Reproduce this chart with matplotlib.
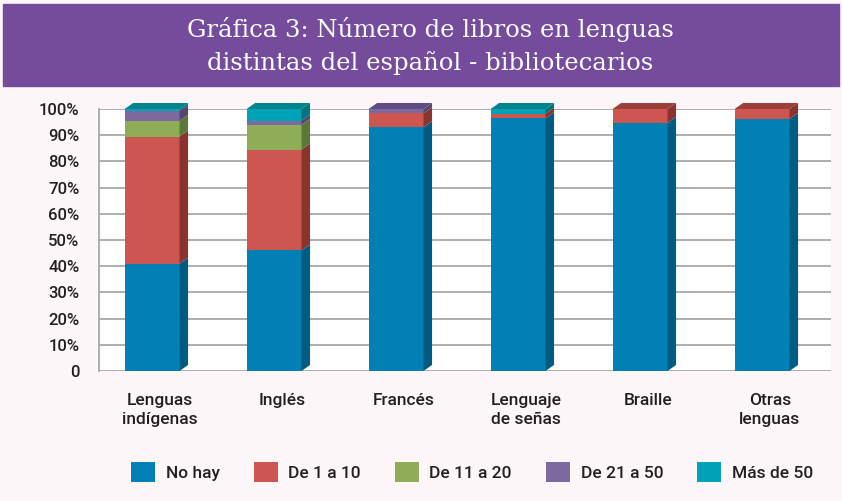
import numpy as np
import matplotlib
matplotlib.use("Agg")
import matplotlib.pyplot as plt
from matplotlib.patches import Rectangle, Polygon, Patch

categorias = ["Lenguas\nindígenas", "Inglés", "Francés", "Lenguaje\nde señas", "Braille", "Otras\nlenguas"]
series = ["No hay", "De 1 a 10", "De 11 a 20", "De 21 a 50", "Más de 50"]
no_hay   = [41.0, 46.0, 93.0, 96.4, 94.7, 96.2]
de_1_10  = [48.5, 38.5, 5.3, 1.8, 5.3, 3.8]
de_11_20 = [6.0, 9.4, 0.0, 0.0, 0.0, 0.0]
de_21_50 = [3.7, 1.7, 1.7, 0.0, 0.0, 0.0]
mas_50   = [0.8, 4.4, 0.0, 1.8, 0.0, 0.0]
valores = [no_hay, de_1_10, de_11_20, de_21_50, mas_50]

# colores: frente, lado, tapa
frente = ["#0080B4", "#CD5650", "#8FAD57", "#7E68A0", "#00A3B5"]
lado   = ["#005B82", "#8A3430", "#5C7838", "#584672", "#00737F"]
tapa   = ["#006D98", "#9C3F3B", "#6E8C45", "#604C80", "#00838C"]

fondo = "#FDF6F9"
texto = "#231F20"
fuente = {"family": "Roboto", "weight": "medium"}
fig = plt.figure(figsize=(8.42, 5.01), dpi=100, facecolor=fondo)

# banda del título
fig.patches.append(Rectangle((3 / 842, 1 - 86 / 501), 836 / 842, 82 / 501,
                             transform=fig.transFigure, color="#754B9C", zorder=0))
fig.text(430 / 842, 1 - 29 / 501, "Gráfica 3: Número de libros en lenguas",
         ha="center", va="center", color="white", family="DejaVu Serif", fontsize=17.5)
fig.text(430 / 842, 1 - 63 / 501, "distintas del español - bibliotecarios",
         ha="center", va="center", color="white", family="DejaVu Serif", fontsize=17.5)

ax = fig.add_axes([99 / 842, 1 - 371 / 501, 732 / 842, 262 / 501])
ax.set_facecolor("white")
ax.set_xlim(-0.5, len(categorias) - 0.5)
ax.set_ylim(0, 100)

x = np.arange(len(categorias))
ancho, desp = 0.45, -0.065
dx, dy = 0.07, 2.3

base = np.zeros(len(categorias))
for k, vals in enumerate(valores):
    vals = np.array(vals)
    for i in range(len(categorias)):
        h = vals[i]
        if h <= 0:
            continue
        x0 = x[i] + desp - ancho / 2
        x1 = x0 + ancho
        b = base[i]
        ax.add_patch(Rectangle((x0, b), ancho, h, facecolor=frente[k], edgecolor="none",
                               zorder=3, clip_on=False))
        ax.add_patch(Polygon([(x1, b), (x1 + dx, b + dy), (x1 + dx, b + h + dy), (x1, b + h)],
                             closed=True, facecolor=lado[k], edgecolor="none", zorder=3,
                             clip_on=False))
    base += vals

# tapa de cada columna con el color de su último segmento
for i in range(len(categorias)):
    k = max(j for j in range(len(valores)) if valores[j][i] > 0)
    top = base[i]
    x0 = x[i] + desp - ancho / 2
    x1 = x0 + ancho
    ax.add_patch(Polygon([(x0, top), (x0 + dx, top + dy), (x1 + dx, top + dy), (x1, top)],
                         closed=True, facecolor=tapa[k], edgecolor="none", zorder=4,
                         clip_on=False))

yt = np.arange(0, 101, 10)
ax.set_yticks(yt)
ax.set_yticklabels(["0"] + [f"{v}%" for v in yt[1:]], fontsize=12, color=texto, **fuente)
ax.set_xticks(x)
ax.set_xticklabels(categorias, fontsize=12.5, color=texto, linespacing=1.3, **fuente)
ax.tick_params(length=0)
ax.tick_params(axis="y", pad=14)
ax.tick_params(axis="x", pad=16)
ax.grid(axis="y", color="#A8A8A8", lw=1.3, zorder=1)
for s in ["top", "right", "bottom"]:
    ax.spines[s].set_visible(False)
ax.spines["left"].set_color("#A8A8A8")
ax.spines["left"].set_linewidth(1.3)

handles = [Patch(facecolor=c, edgecolor="none") for c in frente]
leg = fig.legend(handles, series, loc="center", bbox_to_anchor=(472 / 842, 1 - 472 / 501),
                 ncol=5, frameon=False, handlelength=1.4, handleheight=1.4,
                 columnspacing=1.95, handletextpad=0.6,
                 prop={"family": "Roboto", "weight": "medium", "size": 12.5})
for t in leg.get_texts():
    t.set_color(texto)

fig.savefig("out.png", facecolor=fondo)
